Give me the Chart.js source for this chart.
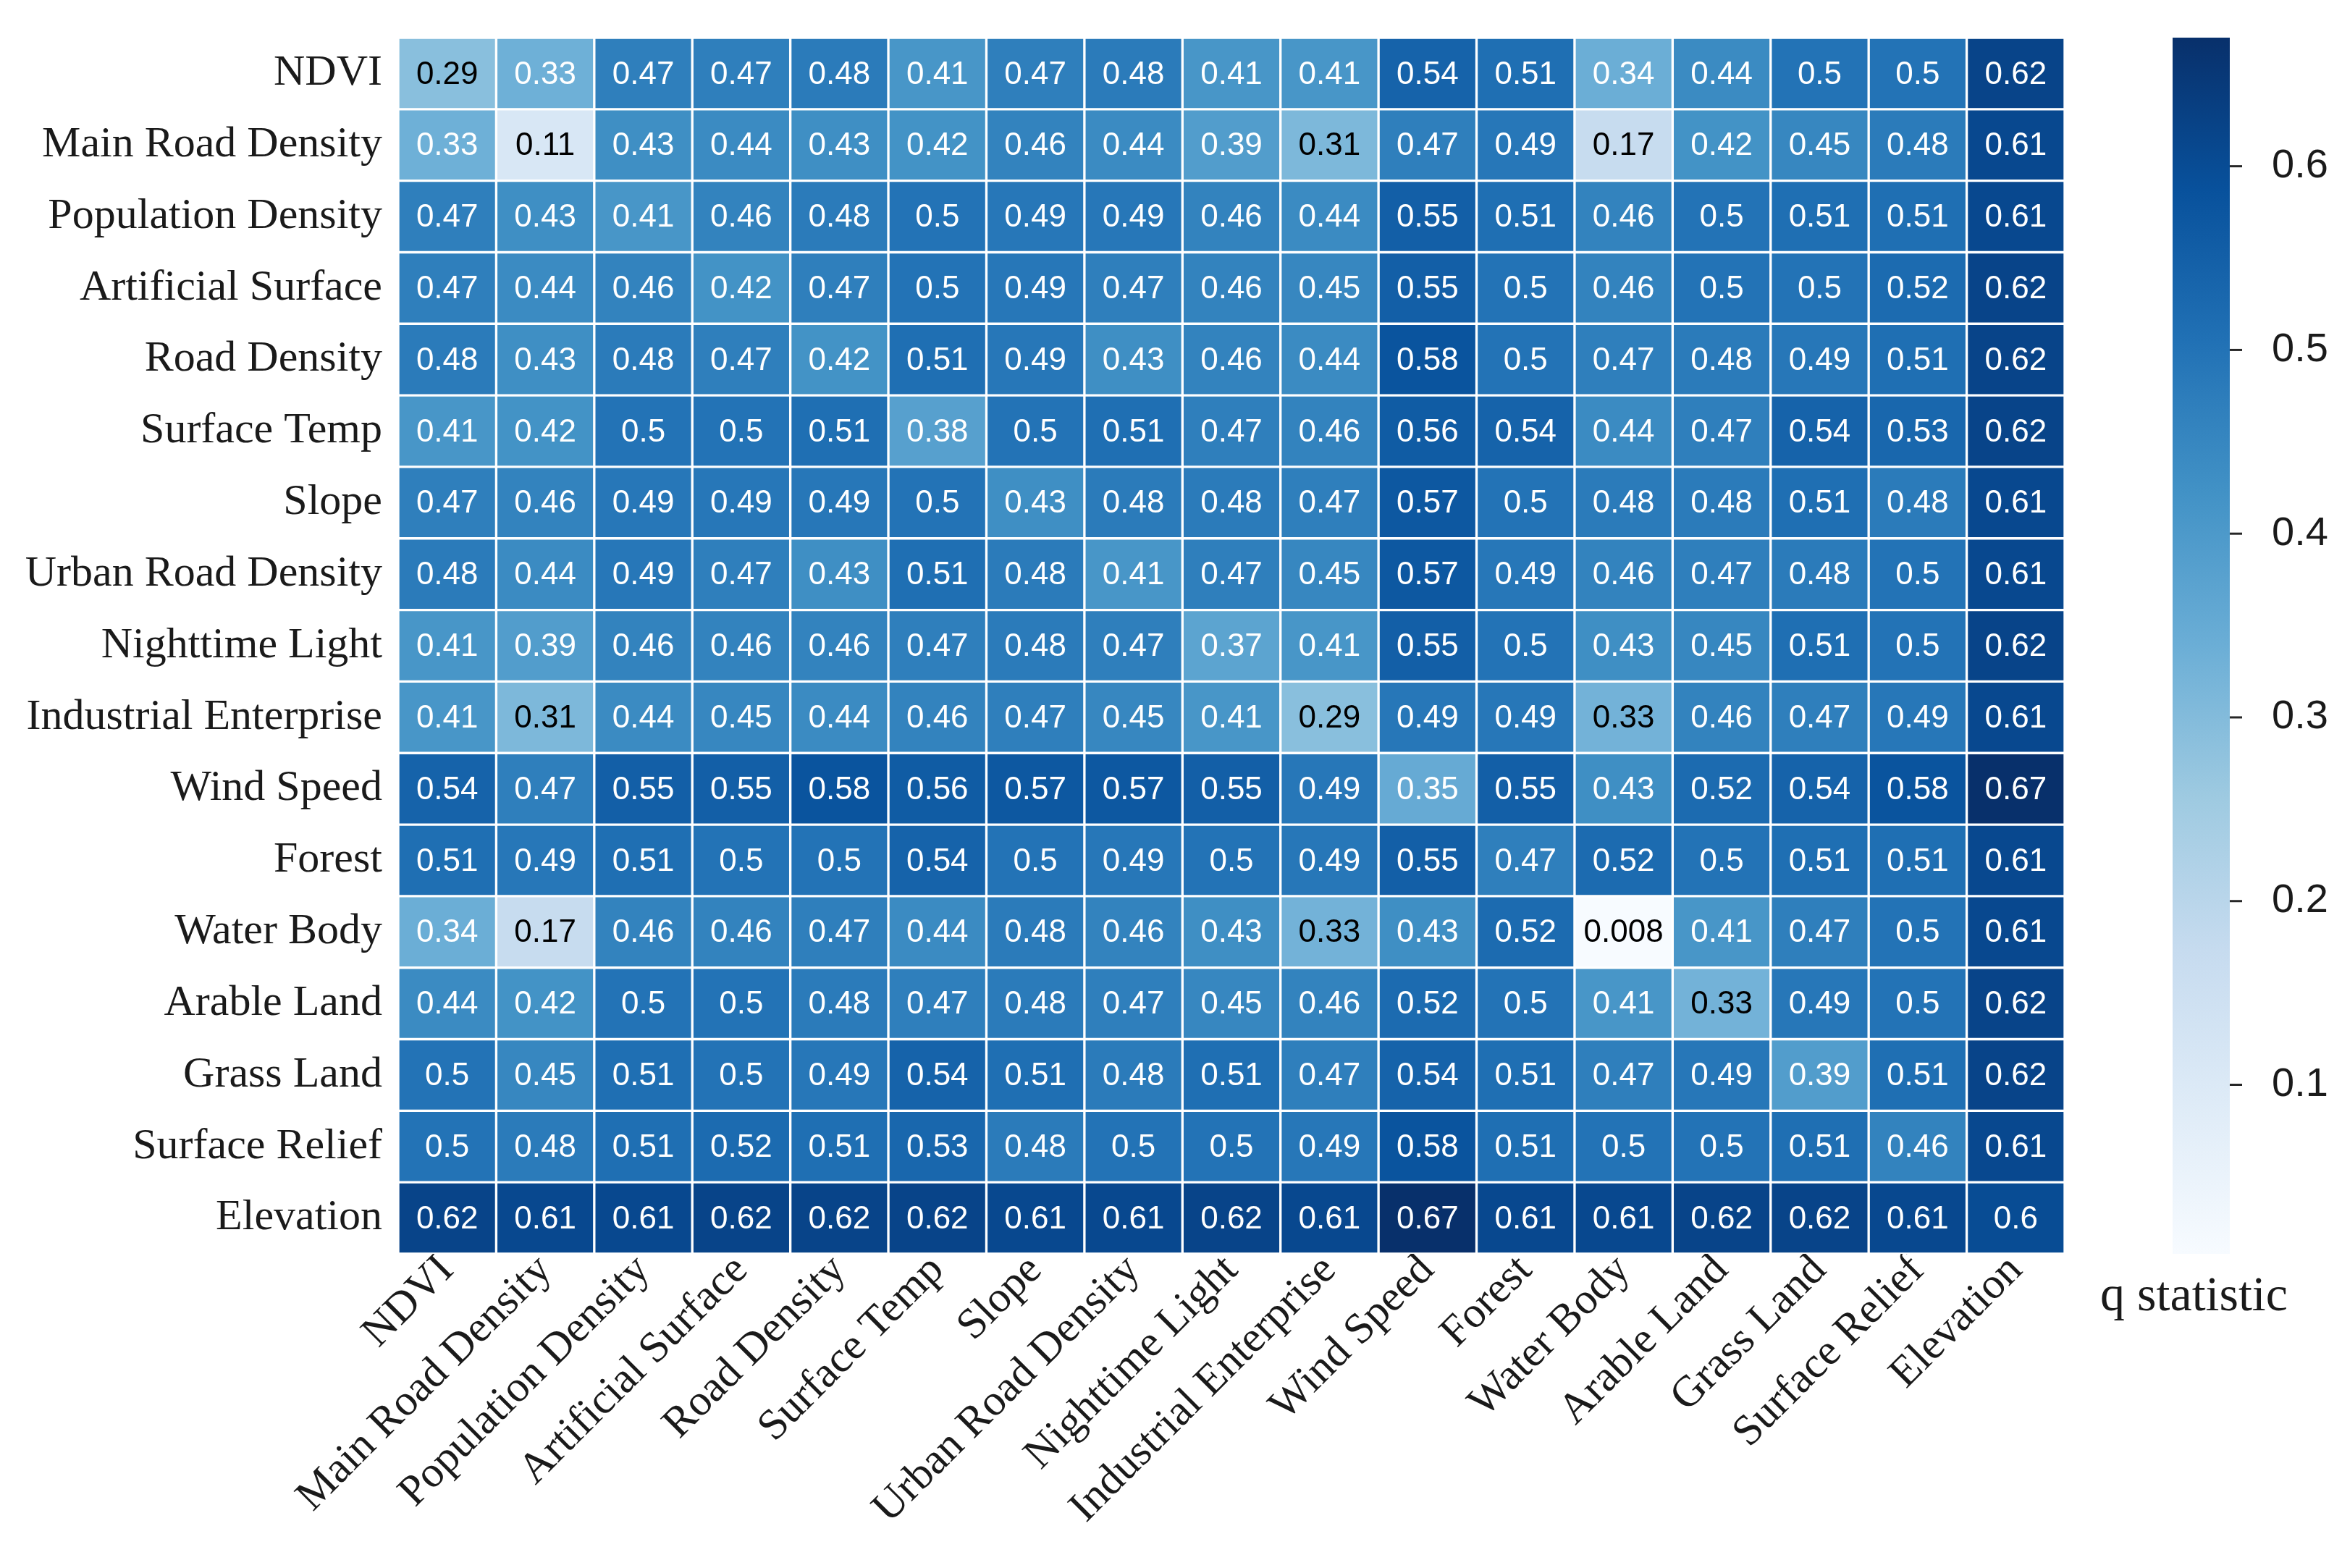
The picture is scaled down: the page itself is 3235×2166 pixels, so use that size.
<!DOCTYPE html>
<html>
<head>
<meta charset="utf-8">
<script src="https://cdn.jsdelivr.net/npm/chart.js@4.4.1/dist/chart.umd.min.js"></script>
<style>
  html, body { margin: 0; padding: 0; background: #fff; }
  #wrap { width: 3235px; height: 2166px; }
</style>
</head>
<body>
<div id="wrap"><canvas id="heat" width="3235" height="2166"></canvas></div>
<script>
const rowLabels = ['NDVI', 'Main Road Density', 'Population Density', 'Artificial Surface', 'Road Density',
  'Surface Temp', 'Slope', 'Urban Road Density', 'Nighttime Light', 'Industrial Enterprise', 'Wind Speed',
  'Forest', 'Water Body', 'Arable Land', 'Grass Land', 'Surface Relief', 'Elevation'];
const colLabels = rowLabels.slice();

// q statistic of each factor pair (rows top to bottom, columns left to right)
const qValues = [
  [0.29, 0.334, 0.47, 0.47, 0.48, 0.41, 0.47, 0.48, 0.41, 0.41, 0.54, 0.51, 0.34, 0.44, 0.5, 0.5, 0.62],
  [0.334, 0.11, 0.43, 0.44, 0.43, 0.42, 0.46, 0.44, 0.39, 0.31, 0.47, 0.49, 0.17, 0.42, 0.45, 0.48, 0.61],
  [0.47, 0.43, 0.41, 0.46, 0.48, 0.5, 0.49, 0.49, 0.46, 0.44, 0.55, 0.51, 0.46, 0.5, 0.51, 0.51, 0.61],
  [0.47, 0.44, 0.46, 0.42, 0.47, 0.5, 0.49, 0.47, 0.46, 0.45, 0.55, 0.5, 0.46, 0.5, 0.5, 0.52, 0.62],
  [0.48, 0.43, 0.48, 0.47, 0.42, 0.51, 0.49, 0.43, 0.46, 0.44, 0.58, 0.5, 0.47, 0.48, 0.49, 0.51, 0.62],
  [0.41, 0.42, 0.5, 0.5, 0.51, 0.38, 0.5, 0.51, 0.47, 0.46, 0.56, 0.54, 0.44, 0.47, 0.54, 0.53, 0.62],
  [0.47, 0.46, 0.49, 0.49, 0.49, 0.5, 0.43, 0.48, 0.48, 0.47, 0.57, 0.5, 0.48, 0.48, 0.51, 0.48, 0.61],
  [0.48, 0.44, 0.49, 0.47, 0.43, 0.51, 0.48, 0.41, 0.47, 0.45, 0.57, 0.49, 0.46, 0.47, 0.48, 0.5, 0.61],
  [0.41, 0.39, 0.46, 0.46, 0.46, 0.47, 0.48, 0.47, 0.37, 0.41, 0.55, 0.5, 0.43, 0.45, 0.51, 0.5, 0.62],
  [0.41, 0.31, 0.44, 0.45, 0.44, 0.46, 0.47, 0.45, 0.41, 0.29, 0.49, 0.49, 0.326, 0.46, 0.47, 0.49, 0.61],
  [0.54, 0.47, 0.55, 0.55, 0.58, 0.56, 0.57, 0.57, 0.55, 0.49, 0.35, 0.55, 0.43, 0.52, 0.54, 0.58, 0.67],
  [0.51, 0.49, 0.51, 0.5, 0.5, 0.54, 0.5, 0.49, 0.5, 0.49, 0.55, 0.47, 0.52, 0.5, 0.51, 0.51, 0.61],
  [0.34, 0.17, 0.46, 0.46, 0.47, 0.44, 0.48, 0.46, 0.43, 0.326, 0.43, 0.52, 0.008, 0.41, 0.47, 0.5, 0.61],
  [0.44, 0.42, 0.5, 0.5, 0.48, 0.47, 0.48, 0.47, 0.45, 0.46, 0.52, 0.5, 0.41, 0.326, 0.49, 0.5, 0.62],
  [0.5, 0.45, 0.51, 0.5, 0.49, 0.54, 0.51, 0.48, 0.51, 0.47, 0.54, 0.51, 0.47, 0.49, 0.39, 0.51, 0.62],
  [0.5, 0.48, 0.51, 0.52, 0.51, 0.53, 0.48, 0.5, 0.5, 0.49, 0.58, 0.51, 0.5, 0.5, 0.51, 0.46, 0.61],
  [0.62, 0.61, 0.61, 0.62, 0.62, 0.62, 0.61, 0.61, 0.62, 0.61, 0.67, 0.61, 0.61, 0.62, 0.62, 0.61, 0.6]
];

const cbTicks = [0.1, 0.2, 0.3, 0.4, 0.5, 0.6];
const cbTitle = 'q statistic';

// colour range = data range, like seaborn does
const allQ = qValues.flat();
const vMin = Math.min(...allQ);
const vMax = Math.max(...allQ);

// matplotlib "Blues"
const blues = ['#f7fbff', '#deebf7', '#c6dbef', '#9ecae1', '#6baed6', '#4292c6', '#2171b5', '#08519c', '#08306b'];

function hexRgb(h) {
  return [1, 3, 5].map(i => parseInt(h.substr(i, 2), 16));
}

function blueColor(v) {
  let t = (v - vMin) / (vMax - vMin);
  t = Math.max(0, Math.min(1, t));
  const p = t * (blues.length - 1);
  const i = Math.min(Math.floor(p), blues.length - 2);
  const f = p - i;
  const a = hexRgb(blues[i]), b = hexRgb(blues[i + 1]);
  return 'rgb(' + a.map((c, k) => Math.round(c + (b[k] - c) * f)).join(',') + ')';
}

function fmt(v) {
  return String(Number(v.toPrecision(2)));
}

const datasets = colLabels.map((c, j) => ({
  label: c,
  data: rowLabels.map(() => 1),
  backgroundColor: rowLabels.map((r, i) => blueColor(qValues[i][j])),
  borderColor: '#ffffff',
  borderWidth: 2,
  borderSkipped: false,
  barPercentage: 1,
  categoryPercentage: 1
}));

const cellText = {
  id: 'cellText',
  afterDatasetsDraw(chart) {
    const ctx = chart.ctx;
    ctx.save();
    ctx.font = '44px "Liberation Sans", Arial, sans-serif';
    ctx.textAlign = 'center';
    ctx.textBaseline = 'middle';
    chart.data.datasets.forEach((ds, j) => {
      chart.getDatasetMeta(j).data.forEach((bar, i) => {
        const v = qValues[i][j];
        const p = bar.getCenterPoint();
        ctx.fillStyle = v < 0.33 ? '#000000' : '#ffffff';
        ctx.fillText(fmt(v), p.x, p.y + 2);
      });
    });
    ctx.restore();
  }
};

const colorBar = {
  id: 'colorBar',
  afterDraw(chart) {
    const s = chart.scales.cb;
    const ctx = chart.ctx;
    const x0 = s.left + 149, w = 79;
    const top = s.getPixelForValue(vMax), bottom = s.getPixelForValue(vMin);
    ctx.save();
    const g = ctx.createLinearGradient(0, bottom, 0, top);
    blues.forEach((c, k) => g.addColorStop(k / (blues.length - 1), c));
    ctx.fillStyle = g;
    ctx.fillRect(x0, top, w, bottom - top);
    ctx.strokeStyle = '#262626';
    ctx.lineWidth = 3;
    s.ticks.forEach(t => {
      const y = s.getPixelForValue(t.value);
      ctx.beginPath();
      ctx.moveTo(x0 + w, y);
      ctx.lineTo(x0 + w + 17, y);
      ctx.stroke();
    });
    ctx.font = '68px "Liberation Serif", "Times New Roman", serif';
    ctx.fillStyle = '#1a1a1a';
    ctx.textAlign = 'center';
    ctx.textBaseline = 'middle';
    ctx.fillText(cbTitle, x0 + w / 2 - 10, bottom + 60);
    ctx.restore();
  }
};

const serif = '"Liberation Serif", "Times New Roman", serif';

new Chart(document.getElementById('heat'), {
  type: 'bar',
  data: { labels: rowLabels, datasets: datasets },
  options: {
    indexAxis: 'y',
    responsive: false,
    devicePixelRatio: 1,
    animation: false,
    layout: { padding: { top: 52, left: 0, right: 0, bottom: 0 } },
    plugins: { legend: { display: false }, tooltip: { enabled: false } },
    scales: {
      x: { type: 'linear', stacked: true, min: 0, max: colLabels.length, display: false },
      xl: {
        type: 'category',
        labels: colLabels,
        position: 'bottom',
        offset: true,
        grid: { display: false },
        border: { display: false },
        ticks: {
          autoSkip: false, minRotation: 45, maxRotation: 45, padding: -20,
          color: '#1a1a1a', font: { family: serif, size: 60 }
        },
        afterFit: s => { s.height = 434; }
      },
      y: {
        type: 'category',
        stacked: true,
        grid: { display: false },
        border: { display: false },
        ticks: { padding: 14, color: '#1a1a1a', font: { family: serif, size: 60 } },
        afterFit: s => { s.width = 550; }
      },
      cb: {
        type: 'linear',
        position: 'right',
        offset: false,
        min: vMin,
        max: vMax,
        grid: { display: true, offset: false, drawOnChartArea: false, drawTicks: true, tickLength: 268, color: 'rgba(0,0,0,0)' },
        border: { display: false },
        ticks: {
          padding: 18, color: '#1a1a1a',
          font: { family: '"Liberation Sans", Arial, sans-serif', size: 56 },
          callback: v => String(v)
        },
        afterBuildTicks: s => { s.ticks = cbTicks.map(v => ({ value: v })); },
        afterFit: s => { s.width = 383; }
      }
    }
  },
  plugins: [cellText, colorBar]
});
</script>
</body>
</html>
